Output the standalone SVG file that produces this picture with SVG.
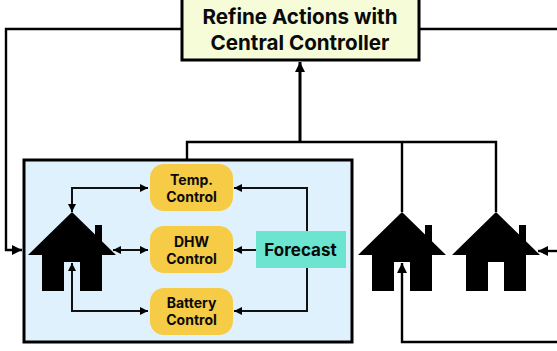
<svg xmlns="http://www.w3.org/2000/svg" width="557" height="351" viewBox="0 0 557 351">
<style>
text{font-family:Inter,"Liberation Sans",sans-serif;font-weight:700;fill:#0a0a0a;text-anchor:middle}
.ctl rect{fill:#f6cb45}
.ctl text{font-size:14px}
.house{fill:#000}
.c{fill:none;stroke:#111;stroke-width:2}
.t{fill:none;stroke:#000;stroke-width:2.4}
</style>
<defs>
<marker id="a" markerUnits="userSpaceOnUse" markerWidth="9" markerHeight="9" refX="8" refY="4" orient="auto-start-reverse"><path d="M0 0L8 4L0 8Z" fill="#000"/></marker>
<marker id="b" markerUnits="userSpaceOnUse" markerWidth="11" markerHeight="11" refX="10" refY="5" orient="auto"><path d="M0 0L10 5L0 10Z" fill="#000"/></marker>
<path id="h" d="M0 0L44 43H30V79H8V50H-8V79H-30V43H-44ZM23 22.500V13H30V30Z"/>
</defs>
<g id="building-box"><rect x="24" y="160" width="328" height="182" fill="#dff1fd" stroke="#000" stroke-width="3"/></g>
<g id="connectors">
<path class="t" d="M182 29H6V250H22" marker-end="url(#b)"/>
<path class="t" d="M419 29H557"/>
<path class="t" d="M187 160V142H496V212M402 142V212"/>
<path d="M300 142V62" fill="none" stroke="#000" stroke-width="3" marker-end="url(#b)"/>
<path class="t" d="M557 251H538" marker-end="url(#b)"/>
<path class="t" d="M557 342H402V263" marker-end="url(#b)"/>
<path class="c" d="M72 212V188H148" marker-start="url(#a)" marker-end="url(#a)"/>
<path class="c" d="M113 250H148" marker-start="url(#a)" marker-end="url(#a)"/>
<path class="c" d="M72 263V311H148" marker-start="url(#a)" marker-end="url(#a)"/>
<path class="c" d="M307 231V188H234" marker-end="url(#a)"/>
<path class="c" d="M256 250H234" marker-end="url(#a)"/>
<path class="c" d="M307 268V311H234" marker-end="url(#a)"/>
</g>
<g id="controller"><rect x="182" y="-3" width="237" height="63" fill="#f6fbd8" stroke="#000" stroke-width="3"/>
<text x="300" y="24" font-size="20.600">Refine Actions with</text><text x="300" y="50" font-size="20.600">Central Controller</text></g>
<g id="temp-control" class="ctl"><rect x="150" y="164" width="83" height="47" rx="14"/><text x="191.500" y="185">Temp.</text><text x="191.500" y="202">Control</text></g>
<g id="dhw-control" class="ctl"><rect x="150" y="226" width="83" height="47" rx="14"/><text x="191.500" y="247">DHW</text><text x="191.500" y="264">Control</text></g>
<g id="battery-control" class="ctl"><rect x="150" y="288" width="83" height="47" rx="14"/><text x="191.500" y="308">Battery</text><text x="191.500" y="325">Control</text></g>
<g id="forecast"><rect x="256" y="231" width="90" height="37" fill="#6ce5d0"/><text x="300.500" y="256" font-size="17">Forecast</text></g>
<g id="house-1" class="house"><use href="#h" x="72" y="212"/></g>
<g id="house-2" class="house"><use href="#h" x="402" y="212"/></g>
<g id="house-3" class="house"><use href="#h" x="496" y="212"/></g>
</svg>
